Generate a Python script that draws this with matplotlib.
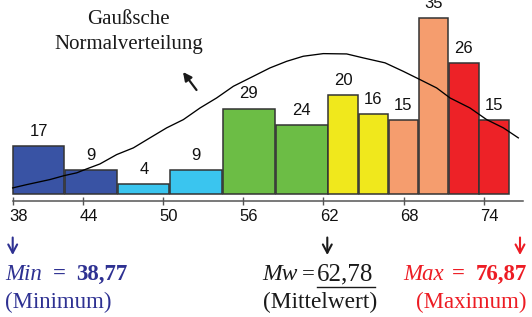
import matplotlib
matplotlib.use("Agg")
import matplotlib.pyplot as plt
from matplotlib.lines import Line2D
from matplotlib.transforms import ScaledTranslation

# ---------------- data ----------------
bin_left = [38.77, 42.70, 46.66, 50.55, 54.47, 58.46, 62.38, 64.65, 66.89, 69.14, 71.38, 73.67]
bin_right = [42.62, 46.54, 50.48, 54.40, 58.35, 62.33, 64.58, 66.82, 69.06, 71.31, 73.62, 75.87]
counts = [17, 9, 4, 9, 29, 24, 20, 16, 15, 35, 26, 15]
heights = [4.39, 2.21, 0.94, 2.21, 7.76, 6.27, 9.03, 7.27, 6.75, 16.0, 11.91, 6.75]
bar_colors = ["#3953a4", "#3953a4", "#3ac5ef", "#3ac5ef", "#6cbd45", "#6cbd45",
              "#f0e81c", "#f0e81c", "#f59d6e", "#f59d6e", "#ed2227", "#ed2227"]

curve_x = [38.76, 39.81, 41.55, 42.62, 43.55, 44.30, 45.29, 46.54, 47.79, 49.03,
           50.28, 51.53, 52.78, 54.02, 55.27, 56.52, 58.01, 59.26, 60.50, 62.00,
           63.75, 64.99, 66.62, 67.98, 69.23, 70.48, 71.48, 72.97, 74.22, 75.47, 76.59]
curve_y = [0.58, 0.88, 1.34, 1.70, 1.95, 2.31, 2.76, 3.61, 4.22, 5.13,
           6.04, 6.79, 7.85, 8.76, 9.82, 10.58, 11.49, 12.09, 12.55, 12.79,
           12.76, 12.40, 11.95, 11.18, 10.43, 9.67, 8.76, 7.85, 6.79, 6.04, 5.13]

tick_pos = [38.77, 44, 50, 56, 62, 68, 74]
tick_labels = ["38", "44", "50", "56", "62", "68", "74"]
axis_min = 38.77
axis_max = 76.94

W, H = 532, 317
fig = plt.figure(figsize=(W / 100, H / 100), dpi=100)
ax = fig.add_axes([0, 0, 1, 1])
ax.set_xlim(37.813, 77.613)
ax.set_ylim(-11.155, 17.664)
ax.patch.set_alpha(0)

sans = "Liberation Sans"
serif = "Liberation Serif"

widths = [r - l for l, r in zip(bin_left, bin_right)]
ax.bar(bin_left, heights, width=widths, align="edge", color=bar_colors,
       edgecolor="#333333", linewidth=1.1, zorder=2)
for l, w, h, c in zip(bin_left, widths, heights, counts):
    ax.text(l + w / 2, h + 0.95, str(c), ha="center", va="baseline",
            fontsize=12, family=sans, color="#111111", zorder=4)

ax.plot(curve_x, curve_y, color="black", lw=0.95, zorder=3)

# axis
for s in ["left", "right", "top"]:
    ax.spines[s].set_visible(False)
ax.spines["bottom"].set_position(("data", -0.6))
ax.spines["bottom"].set_bounds(axis_min, axis_max)
ax.spines["bottom"].set_color("#555555")
ax.spines["bottom"].set_linewidth(1.1)
ax.set_yticks([])
ax.set_xticks(tick_pos)
ax.set_xticklabels(tick_labels, family=sans, fontsize=12, color="#111111")
ax.tick_params(axis="x", direction="inout", length=5.8, width=1.0,
               color="#555555", pad=3.0)
off = ScaledTranslation(6 / 100, 0, fig.dpi_scale_trans)
for lab in ax.get_xticklabels():
    lab.set_transform(lab.get_transform() + off)


def fp(x, y):
    return (x / W, 1 - y / H)


blue = "#2e3192"
red = "#ed1c24"
black = "#1a1a1a"

# Gauss label
fig.text(*fp(128, 24), "Gaußsche", ha="center", va="baseline", family=serif,
         fontsize=15, color=black)
fig.text(*fp(128.5, 49.3), "Normalverteilung", ha="center", va="baseline",
         family=serif, fontsize=15, color=black)
ax.annotate("", xy=fp(183, 72), xytext=fp(196.5, 90), xycoords="figure fraction",
            textcoords="figure fraction",
            arrowprops=dict(arrowstyle="-|>,head_length=0.5,head_width=0.25",
                            color=black, lw=1.6, shrinkA=0, shrinkB=0))

# bottom arrows
for xa, col in [(12.7, blue), (327.3, black), (520, red)]:
    ax.annotate("", xy=fp(xa, 255), xytext=fp(xa, 237.5), xycoords="figure fraction",
                textcoords="figure fraction",
                arrowprops=dict(arrowstyle="->,head_length=0.6,head_width=0.32",
                                color=col, lw=1.5, shrinkA=0, shrinkB=0))

fs = 16.5
# Min
fig.text(*fp(5, 280), "Min", family=serif, style="italic", fontsize=fs, color=blue,
         va="baseline", ha="left")
fig.text(*fp(53.3, 280), "=", family=serif, weight="bold", fontsize=fs, color=blue,
         va="baseline", ha="left")
fig.text(*fp(76, 280), "38,77", family=serif, weight="bold", fontsize=fs, color=blue,
         va="baseline", ha="left")
fig.text(*fp(5, 308.3), "(Minimum)", family=serif, fontsize=fs, color=blue,
         va="baseline", ha="left")

# Mw
fig.text(*fp(262.7, 280), "Mw", family=serif, style="italic", fontsize=17, color=black,
         va="baseline", ha="left")
fig.text(*fp(302.0, 280), "=", family=serif, fontsize=fs, color=black,
         va="baseline", ha="left")
fig.text(*fp(316.7, 280), "62,78", family=serif, fontsize=18, color=black,
         va="baseline", ha="left")
fig.add_artist(Line2D([316.7 / W, 375 / W], [1 - 286.8 / H, 1 - 286.8 / H],
                      transform=fig.transFigure, color=black, lw=1.0))
fig.text(*fp(262.7, 308.3), "(Mittelwert)", family=serif, fontsize=16.8, color=black,
         va="baseline", ha="left")

# Max
fig.text(*fp(403.3, 280), "Max", family=serif, style="italic", fontsize=fs, color=red,
         va="baseline", ha="left")
fig.text(*fp(451.7, 280), "=", family=serif, weight="bold", fontsize=fs, color=red,
         va="baseline", ha="left")
fig.text(*fp(526.7, 280), "76,87", family=serif, weight="bold", fontsize=fs, color=red,
         va="baseline", ha="right")
fig.text(*fp(526.7, 308.3), "(Maximum)", family=serif, fontsize=fs, color=red,
         va="baseline", ha="right")

fig.savefig("out.png", dpi=100)
